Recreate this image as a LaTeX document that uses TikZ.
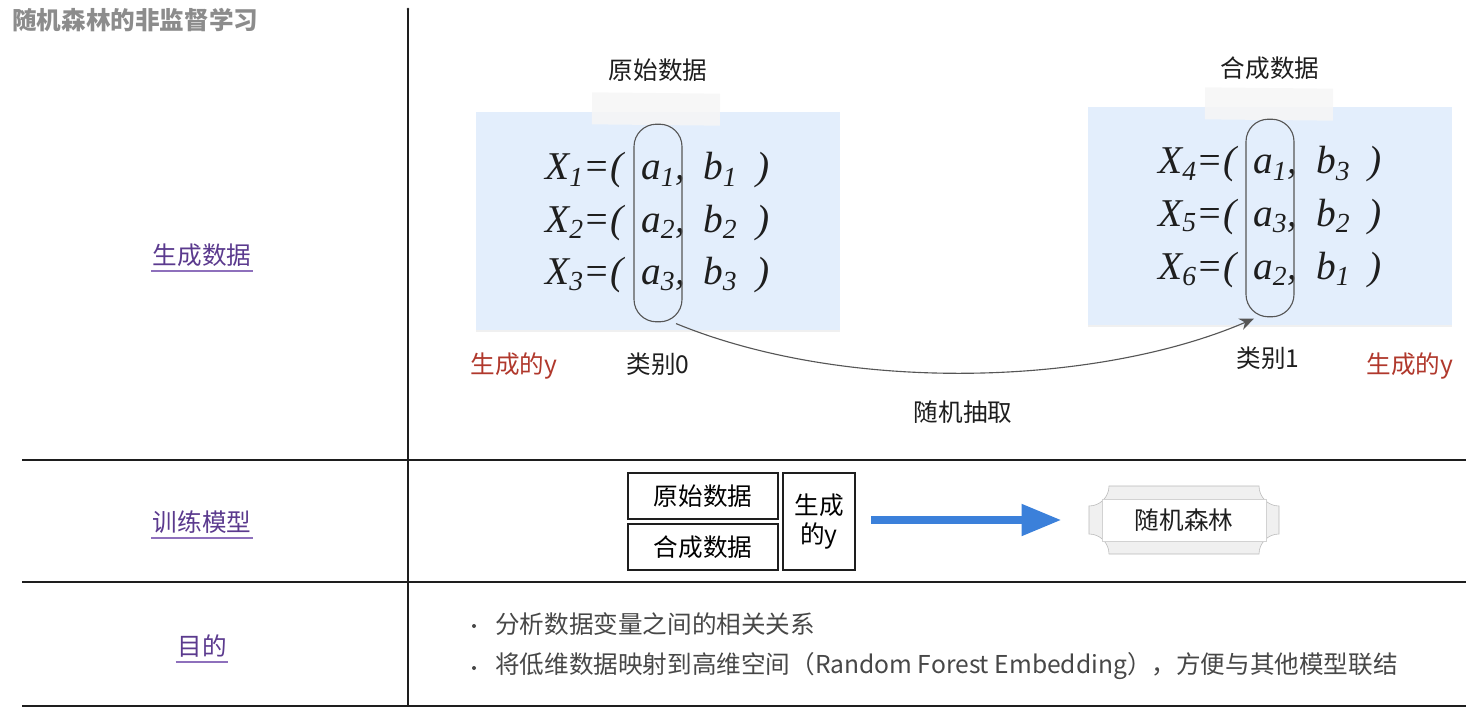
\documentclass[tikz,border=0pt]{standalone}
\usepackage{fontspec}
\setmainfont{Noto Sans CJK SC}
\newfontfamily\eqfont{Liberation Serif}
\usetikzlibrary{arrows.meta,positioning,shadows}
\definecolor{ink}{HTML}{1E1E1E}
\definecolor{titlegray}{HTML}{8C8C8C}
\definecolor{rowpurple}{HTML}{5B3A8E}
\definecolor{linepurple}{HTML}{8E70BC}
\definecolor{genred}{HTML}{B0382C}
\definecolor{boxblue}{HTML}{E3EEFC}
\definecolor{arrowblue}{HTML}{3B80DA}
\definecolor{bodygray}{HTML}{474747}
\newcommand{\cnsize}{\fontsize{17.5}{21}\selectfont}
\newcommand{\eqsize}{\fontsize{28}{31}\selectfont}

\begin{document}
\begin{tikzpicture}[x=0.25mm,y=-0.25mm,
    rowlabel/.style={text=rowpurple,font=\cnsize,inner sep=1pt},
    caption/.style={text=ink,font=\cnsize},
    redlabel/.style={text=genred,font=\cnsize},
    databox/.style={fill=boxblue,draw=none,drop shadow={opacity=0.12,shadow xshift=0pt,shadow yshift=-1.2pt}},
    tape/.style={fill=white!93!gray,opacity=0.85,draw=none},
    eq/.style={anchor=base west,font=\eqsize\eqfont\itshape,inner sep=0pt,text=ink},
    capsule/.style={draw=ink!75,thick,rounded corners=5.6mm,minimum width=12mm,minimum height=49.4mm},
    sketchbox/.style={draw=ink,line width=1.1pt,font=\cnsize,align=center,inner sep=0pt},
    rule/.style={draw=ink,line width=1.3pt},
    bullet/.style={text=bodygray,font=\cnsize,anchor=west,inner sep=0pt},
    dot/.style={circle,fill=bodygray,inner sep=0pt,minimum size=1mm}]
  \useasboundingbox (0,0) rectangle (1484,708);

  % title
  \node[anchor=west,text=titlegray,font=\cnsize\bfseries,inner sep=0pt] (title) at (12,20) {随机森林的非监督学习};

  % table rules
  \draw[rule] (408,9) -- (408,706);
  \fill[ink] (408,9) circle (1.3);
  \foreach \yy in {460,582,706} {\draw[rule] (22,\yy) -- (1466,\yy);}

  % row labels
  \node[rowlabel] (rowgen) at (202,255) {生成数据};
  \node[rowlabel] (rowtrain) at (202,522) {训练模型};
  \node[rowlabel] (rowgoal) at (202,646) {目的};
  \foreach \n in {rowgen,rowtrain,rowgoal}
    \draw[linepurple,line width=1.1pt] ([yshift=-2pt]\n.south west) -- ([yshift=-2pt]\n.south east);

  % data boxes
  \fill[databox] (476,112) rectangle (840,330);
  \fill[databox] (1088,107) rectangle (1452,325);
  \fill[tape,rotate around={-0.6:(656,109)}] (592,93) rectangle (720,125);
  \fill[tape,rotate around={-0.6:(1269,104)}] (1205,88) rectangle (1333,120);
  \node[caption] (origcap) at (658,70) {原始数据};
  \node[caption] (synthcap) at (1270,68) {合成数据};

  \foreach \r/\yb/\i/\a/\b in {1/180/1/1/1, 2/232/2/2/2, 3/284/3/3/3} {
    \node[eq] at (545,\yb) {X\textsubscript{\i}=(};
    \node[eq] at (641,\yb) {a\textsubscript{\a},};
    \node[eq] at (703,\yb) {b\textsubscript{\b}};
    \node[eq] at (756,\yb) {)};
  }
  \foreach \r/\yb/\i/\a/\b in {1/174/4/1/3, 2/226/5/3/2, 3/279/6/2/1} {
    \node[eq] at (1158,\yb) {X\textsubscript{\i}=(};
    \node[eq] at (1253,\yb) {a\textsubscript{\a},};
    \node[eq] at (1316,\yb) {b\textsubscript{\b}};
    \node[eq] at (1368,\yb) {)};
  }
  \node[capsule] (capL) at (658,223) {};
  \node[capsule] (capR) at (1270,218) {};

  \node[redlabel] (genL) at (514,366) {生成的y};
  \node[caption] (cls0) at (658,364) {类别0};
  \node[caption] (cls1) at (1268,358) {类别1};
  \node[redlabel] (genR) at (1410,366) {生成的y};
  \node[caption] (pick) at (963,412) {随机抽取};

  \draw[ink!75,thick,-{Stealth[length=3.6mm,width=3mm]}]
    ([xshift=4.5mm,yshift=-0.3mm]capL.south) .. controls (850,395) and (1100,385) .. ([xshift=-4mm,yshift=-0.3mm]capR.south);

  % training row
  \node[sketchbox,minimum width=37.5mm,minimum height=11.5mm] (orig) at (703,496) {原始数据};
  \node[sketchbox,minimum width=37.5mm,minimum height=11.5mm] (synth) at (703,547) {合成数据};
  \node[sketchbox,minimum width=18mm,minimum height=24.2mm] (gen) at (819,521.5) {生成\\[-1pt]的y};

  \fill[gray!12] (1109,486) -- (1259,486) .. controls (1259,497) and (1268,506) .. (1279,506)
    -- (1279,534) .. controls (1268,534) and (1259,543) .. (1259,554)
    -- (1109,554) .. controls (1109,543) and (1100,534) .. (1089,534)
    -- (1089,506) .. controls (1100,506) and (1109,497) .. (1109,486) -- cycle;
  \draw[gray!55,thin] (1109,486) -- (1259,486) .. controls (1259,497) and (1268,506) .. (1279,506)
    -- (1279,534) .. controls (1268,534) and (1259,543) .. (1259,554)
    -- (1109,554) .. controls (1109,543) and (1100,534) .. (1089,534)
    -- (1089,506) .. controls (1100,506) and (1109,497) .. (1109,486) -- cycle;
  \draw[gray!35,fill=white] (1102,499) rectangle (1266,541);
  \node[caption,minimum width=47.5mm,minimum height=17mm] (rf) at (1184,520) {随机森林};

  \draw[arrowblue,line width=2mm,-{Triangle[length=10mm,width=7.5mm]},shorten <=3.8mm,shorten >=6.8mm]
    (gen.east |- rf.west) -- (rf.west);

  % goal row
  \node[dot] (dot1) at (474,626) {};
  \node[bullet] (goal1) at (495,624) {分析数据变量之间的相关关系};
  \node[dot] (dot2) at (474,668) {};
  \node[bullet] (goal2) at (495,666) {将低维数据映射到高维空间（Random Forest Embedding），方便与其他模型联结};
\end{tikzpicture}
\end{document}
